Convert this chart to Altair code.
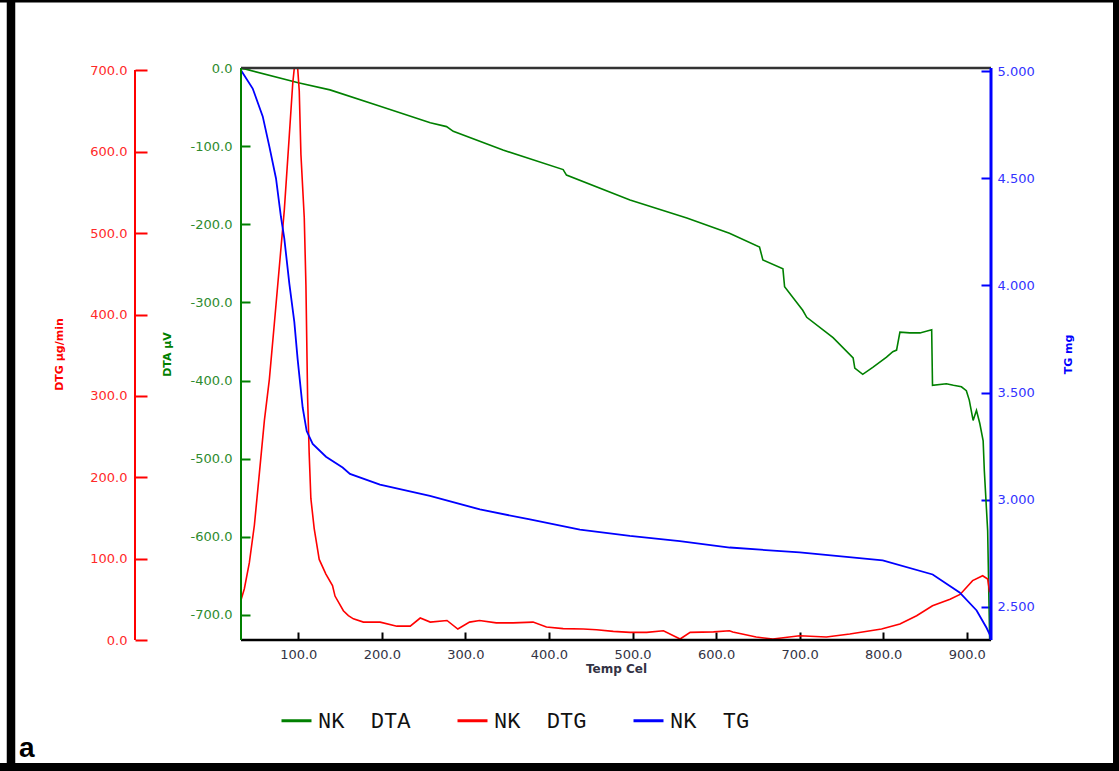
import altair as alt
import pandas as pd

# ---------------- data ----------------
temp_dta = [31.5, 100, 138, 198, 258, 277.5, 285.5, 345, 417, 421, 497, 565, 616, 652, 656,
            680, 682, 703.7, 708.5, 740, 764, 766, 775.5, 787.5, 804, 811.5, 816, 820, 832, 844,
            858, 859, 875.6, 884, 893.6, 899.5, 903, 907.6, 911.6, 915.6, 919.6, 921, 925, 927.4]
dta_vals = [0, -19, -28, -49, -70, -75, -81, -105, -130, -137, -169, -192, -211.5, -229, -245.6,
            -257, -280, -310, -319, -345, -371, -384, -392, -383, -370, -363, -361, -338, -339, -339,
            -335, -406, -404, -406, -408, -413, -425, -451, -438, -455, -477, -515, -592, -732]

temp_dtg = [31.5, 35.5, 41.5, 47.5, 53.5, 59.5, 65.4, 71.4, 77.4, 83.3, 89.3, 93.4, 95.3, 99.3,
            101.2, 103.2, 107.2, 109.2, 111.2, 113.1, 115.1, 119.1, 125.1, 133.1, 141, 144, 149,
            154, 160, 166, 178, 198, 218, 234, 246, 258, 278, 291, 305, 317, 337, 357, 381, 397,
            417, 441, 457, 477, 497, 517, 537, 557, 569, 597, 616, 620, 648, 668, 700, 732, 760,
            798, 820, 840, 859, 880, 892, 907, 919, 925, 927.4]
dtg_vals = [49, 63, 95, 141, 205, 270, 320, 389, 459, 528, 620, 684, 703, 703,
            675, 597, 519, 436, 298, 229, 174, 137, 99, 81, 67, 54, 45,
            36, 30, 26, 22, 22, 17, 17, 27, 22, 24, 13.5, 22, 24, 21, 21, 22, 16,
            14, 13.5, 12.6, 10.6, 9.4, 9.4, 11.4, 1.2, 9.4, 10, 11.4, 9.8, 3.7, 1.2, 5.3, 3.7, 7.4,
            13.5, 19.6, 29.8, 42, 50, 56, 73, 79, 75, 58.5]

temp_tg = [31.5, 45.5, 57.5, 65.4, 73.4, 79.3, 83.3, 89.3, 95.3, 99.3, 105.3, 110.1, 117.3,
           133.2, 153.1, 161.9, 197.8, 257.6, 317.4, 377.2, 437, 496.8, 556.6, 616.4, 700.1,
           799.4, 859.2, 891.4, 911.8, 923.8, 927.4, 929]
tg_vals = [5.005, 4.92, 4.79, 4.65, 4.50, 4.32, 4.22, 4.01, 3.83, 3.655, 3.43, 3.32, 3.26,
           3.20, 3.15, 3.12, 3.07, 3.017, 2.954, 2.907, 2.86, 2.83, 2.806, 2.776, 2.753,
           2.716, 2.65, 2.566, 2.482, 2.40, 2.37, 2.35]

series_names = ["NK\u00a0\u00a0DTA", "NK\u00a0\u00a0DTG", "NK\u00a0\u00a0TG"]
series_colors = ["#008000", "#ff0000", "#0000ff"]

x_ticks = [100, 200, 300, 400, 500, 600, 700, 800, 900]
dta_ticks = [0, -100, -200, -300, -400, -500, -600, -700]
dtg_ticks = [0, 100, 200, 300, 400, 500, 600, 700]
tg_ticks = [2.5, 3.0, 3.5, 4.0, 4.5, 5.0]

W, H = 750, 572
LABEL_FONT = "DejaVu Sans"

dta_df = pd.DataFrame({"T": temp_dta, "v": dta_vals, "s": series_names[0]})
dtg_df = pd.DataFrame({"T": temp_dtg, "v": dtg_vals, "s": series_names[1]})
tg_df = pd.DataFrame({"T": temp_tg, "v": tg_vals, "s": series_names[2]})

color = alt.Color(
    "s:N",
    scale=alt.Scale(domain=series_names, range=series_colors),
    legend=alt.Legend(
        title=None, orient="none", legendX=39, legendY=636, direction="horizontal",
        columns=3, symbolType="stroke", symbolSize=900, symbolStrokeWidth=3,
        labelFont="Liberation Mono", labelFontSize=22, labelColor="#111111",
        labelOffset=5, columnPadding=40, padding=0, labelLimit=400,
    ),
)

x_axis = alt.Axis(
    values=x_ticks, format=".1f", orient="bottom", offset=-8, tickSize=8, tickWidth=2,
    tickColor="black", domain=False, grid=False, labelPadding=8, labelFont=LABEL_FONT,
    labelFontSize=13, labelColor="#333344", title="Temp Cel", titleFont=LABEL_FONT,
    titleFontSize=12, titleFontWeight="bold", titleColor="#333344", titlePadding=2,
)
x_enc = alt.X("T:Q", scale=alt.Scale(domain=[31.5, 929], nice=False, zero=False), axis=x_axis)

dta_axis = alt.Axis(
    orient="left", values=dta_ticks,
    labelExpr="replace(format(datum.value, '.1f'), '\u2212', '-')",
    offset=-9, tickSize=9, tickWidth=2, tickColor="#008000", domain=False, grid=False,
    labelPadding=9, labelFont=LABEL_FONT, labelFontSize=13, labelColor="#2e8b2e",
    title="DTA \u00b5V", titleFont=LABEL_FONT, titleFontSize=11, titleFontWeight="bold",
    titleColor="#008000", titlePadding=18,
)
dtg_axis = alt.Axis(
    orient="left", values=dtg_ticks, format=".1f", offset=94, tickSize=12, tickWidth=2,
    tickColor="#ff0000", domain=False, grid=False, labelPadding=8, labelFont=LABEL_FONT,
    labelFontSize=13, labelColor="#ff2a2a", title="DTG \u00b5g/min", titleFont=LABEL_FONT,
    titleFontSize=11, titleFontWeight="bold", titleColor="#ff0000", titlePadding=25,
)
tg_axis = alt.Axis(
    orient="right", values=tg_ticks, format=".3f", offset=-10, tickSize=10, tickWidth=2,
    tickColor="#0000ff", domain=False, grid=False, labelPadding=6, labelFont=LABEL_FONT,
    labelFontSize=13, labelColor="#3333ff", title="TG mg", titleFont=LABEL_FONT,
    titleFontSize=11, titleFontWeight="bold", titleColor="#0000ff", titlePadding=28,
    titleAngle=270, titleBaseline="top",
)

dta_line = alt.Chart(dta_df).mark_line(strokeWidth=1.6).encode(
    x=x_enc,
    y=alt.Y("v:Q", scale=alt.Scale(domain=[-732, 0], nice=False, zero=False), axis=dta_axis),
    color=color,
)
dtg_line = alt.Chart(dtg_df).mark_line(strokeWidth=1.6).encode(
    x=x_enc,
    y=alt.Y("v:Q", scale=alt.Scale(domain=[0, 703], nice=False, zero=False), axis=dtg_axis),
    color=color,
)
tg_line = alt.Chart(tg_df).mark_line(strokeWidth=1.8).encode(
    x=x_enc,
    y=alt.Y("v:Q", scale=alt.Scale(domain=[2.344, 5.016], nice=False, zero=False), axis=tg_axis),
    color=color,
)

one = pd.DataFrame({"k": [0]})


def hrule(y, x, x2, col, w):
    return alt.Chart(one).mark_rule(color=col, strokeWidth=w).encode(
        y=alt.value(y), x=alt.value(x), x2=alt.value(x2))


def vrule(x, y, y2, col, w):
    return alt.Chart(one).mark_rule(color=col, strokeWidth=w).encode(
        x=alt.value(x), y=alt.value(y), y2=alt.value(y2))


frame = [
    hrule(0, 0, W, "#333333", 2.5),          # plot top
    hrule(H, 0, W, "black", 2.5),            # plot bottom (x axis line)
    vrule(0, 0, H, "#008000", 2),            # DTA axis line
    vrule(W, 0, H, "#0000ff", 3),            # TG axis line
    vrule(-106, 2, H, "#ff0000", 2),         # DTG axis line
    vrule(-230, -68, 703, "black", 8.5),     # outer frame left
    vrule(876, -68, 703, "black", 8),        # outer frame right
    hrule(699, -241, 878, "black", 8),       # outer frame bottom
    hrule(-67, -241, 878, "black", 3),       # outer frame top
]

letter = alt.Chart(pd.DataFrame({"t": ["a"]})).mark_text(
    font="Liberation Sans", fontWeight="bold", fontSize=28, align="left",
    baseline="alphabetic", color="black",
).encode(text="t:N", x=alt.value(-222), y=alt.value(689))

chart = alt.layer(dta_line, dtg_line, tg_line, *frame, letter).resolve_scale(
    y="independent"
).properties(
    width=W, height=H, autosize="none",
    padding={"left": 241, "top": 68, "right": 128, "bottom": 131},
).configure_view(stroke="transparent").configure(background="white")

chart.save("out.html", embed_options={"renderer": "svg", "actions": False})
